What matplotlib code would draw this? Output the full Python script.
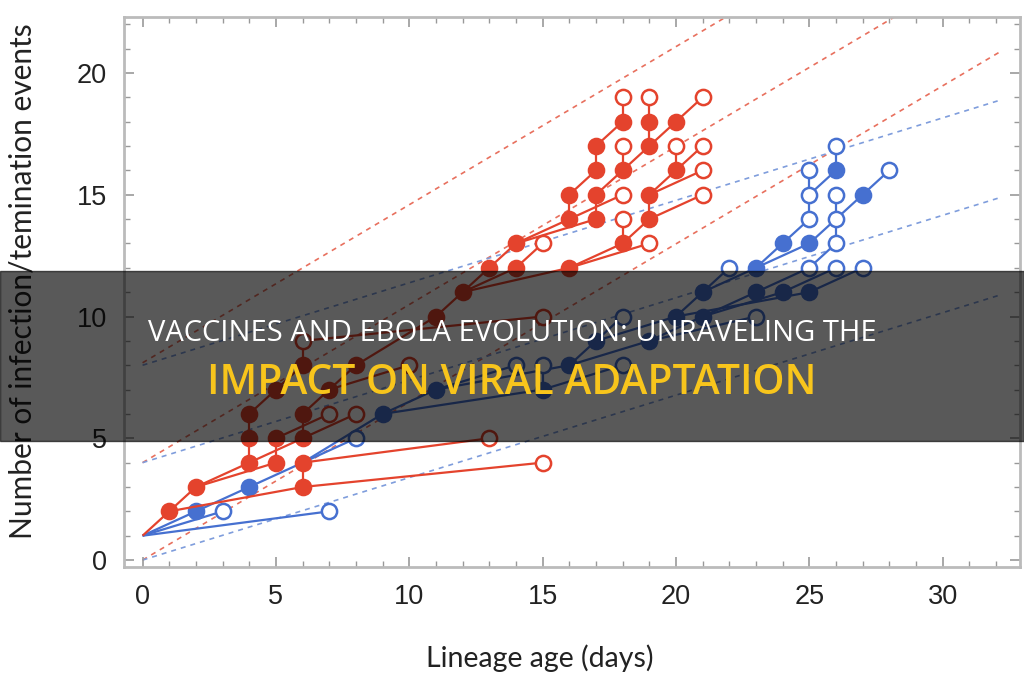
import matplotlib
matplotlib.use('Agg')
import matplotlib.pyplot as plt
from matplotlib.collections import LineCollection
from matplotlib.patches import Rectangle
from matplotlib.ticker import MultipleLocator

red = '#e4432d'
blue = '#4670d0'

# dashed guide lines, (start, end) in data units
red_guides = [((0, 8.1), (32.2, 29.0)), ((0, 4.0), (32.2, 24.9)), ((0, 0.0), (32.2, 20.9))]
blue_guides = [((0, 8.0), (32.2, 18.9)), ((0, 4.0), (32.2, 14.9)), ((0, 0.0), (32.2, 10.9))]

# red lineages
red_edges = [
    ((0, 1), (1, 2)), ((1, 2), (2, 3)), ((1, 2), (6, 3)), ((6, 3), (15, 4)), ((6, 3), (6, 4)),
    ((6, 4), (13, 5)), ((2, 3), (4, 4)), ((2, 3), (5, 4)), ((4, 4), (4, 5)), ((4, 4), (6, 5)),
    ((5, 4), (5, 5)), ((4, 5), (4, 6)), ((5, 5), (7, 6)), ((6, 5), (6, 6)), ((6, 5), (8, 6)),
    ((4, 6), (5, 7)), ((6, 6), (7, 7)), ((5, 7), (6, 8)), ((6, 8), (6, 9)), ((7, 7), (8, 8)),
    ((7, 7), (10, 8)), ((8, 8), (11, 10)), ((6, 9), (15, 10)),
    ((11, 10), (12, 11)), ((12, 11), (13, 12)), ((12, 11), (14, 12)), ((12, 11), (16, 12)),
    ((13, 12), (14, 13)), ((14, 12), (15, 13)), ((14, 13), (16, 14)), ((14, 13), (17, 14)),
    ((16, 12), (18, 13)), ((16, 12), (19, 13)),
    ((16, 14), (16, 15)), ((16, 14), (18, 15)), ((17, 14), (17, 15)),
    ((18, 13), (18, 14)), ((18, 13), (19, 14)), ((19, 14), (19, 15)), ((19, 14), (21, 15)),
    ((16, 15), (17, 16)), ((17, 15), (18, 16)), ((19, 15), (20, 16)), ((19, 15), (21, 16)),
    ((17, 16), (17, 17)), ((18, 16), (18, 17)), ((18, 16), (19, 17)), ((20, 16), (20, 17)),
    ((20, 16), (21, 17)), ((17, 17), (18, 18)), ((19, 17), (19, 18)), ((19, 17), (20, 18)),
    ((18, 18), (18, 19)), ((19, 18), (19, 19)), ((20, 18), (21, 19)),
]
red_filled = [
    (1, 2), (2, 3), (4, 4), (4, 5), (4, 6), (5, 4), (5, 5), (5, 7), (6, 3), (6, 4), (6, 5), (6, 6),
    (6, 8), (7, 7), (8, 8), (11, 10), (12, 11), (13, 12), (14, 12), (16, 12), (14, 13), (16, 14),
    (17, 14), (18, 13), (19, 14), (16, 15), (17, 15), (19, 15), (17, 16), (18, 16), (20, 16),
    (17, 17), (19, 17), (18, 18), (19, 18), (20, 18),
]
red_open = [
    (15, 4), (13, 5), (7, 6), (8, 6), (6, 9), (10, 8), (15, 10), (15, 13), (19, 13), (18, 14),
    (18, 15), (21, 15), (21, 16), (18, 17), (20, 17), (21, 17), (18, 19), (19, 19), (21, 19),
]

# blue lineages
blue_edges = [
    ((0, 1), (2, 2)), ((0, 1), (3, 2)), ((0, 1), (7, 2)), ((2, 2), (4, 3)), ((4, 3), (6, 4)),
    ((6, 4), (8, 5)), ((6, 4), (9, 6)), ((9, 6), (11, 7)), ((9, 6), (15, 7)), ((11, 7), (14, 8)),
    ((11, 7), (16, 8)), ((15, 7), (15, 8)), ((15, 7), (18, 8)), ((16, 8), (17, 9)), ((16, 8), (19, 9)),
    ((17, 9), (18, 10)), ((17, 9), (20, 10)), ((19, 9), (21, 10)), ((19, 9), (23, 10)),
    ((20, 10), (21, 11)), ((21, 10), (23, 11)), ((21, 10), (24, 11)), ((20, 10), (25, 11)),
    ((21, 11), (22, 12)), ((21, 11), (23, 12)), ((23, 11), (25, 12)), ((24, 11), (26, 12)),
    ((25, 11), (27, 12)), ((23, 12), (24, 13)), ((23, 12), (25, 13)), ((24, 13), (25, 14)),
    ((25, 14), (25, 15)), ((25, 15), (25, 16)), ((25, 15), (26, 16)), ((26, 16), (26, 17)),
    ((25, 13), (26, 14)), ((25, 12), (26, 13)), ((26, 13), (26, 14)), ((26, 14), (26, 15)),
    ((26, 14), (27, 15)), ((27, 15), (28, 16)),
]
blue_filled = [
    (2, 2), (4, 3), (9, 6), (11, 7), (15, 7), (16, 8), (17, 9), (19, 9), (20, 10), (21, 10),
    (21, 11), (23, 11), (24, 11), (25, 11), (23, 12), (24, 13), (25, 13), (26, 16), (27, 15),
]
blue_open = [
    (3, 2), (7, 2), (8, 5), (14, 8), (15, 8), (18, 8), (18, 10), (23, 10), (22, 12), (25, 12),
    (26, 12), (27, 12), (25, 14), (25, 15), (25, 16), (26, 17), (26, 13), (26, 14), (26, 15),
    (28, 16),
]

title1 = 'VACCINES AND EBOLA EVOLUTION: UNRAVELING THE'
title2 = 'IMPACT ON VIRAL ADAPTATION'

fig = plt.figure(figsize=(10.24, 6.8), dpi=100)
ax = fig.add_axes([0.121, 0.166, 0.875, 0.809])

for (x0, y0), (x1, y1) in red_guides:
    ax.plot([x0, x1], [y0, y1], ls=(0, (3, 3)), color='#e8705e', lw=1.2, zorder=1)
for (x0, y0), (x1, y1) in blue_guides:
    ax.plot([x0, x1], [y0, y1], ls=(0, (3, 3)), color='#7f9ddc', lw=1.2, zorder=1)


def draw_tree(edges, filled, opened, color, z):
    ax.add_collection(LineCollection(edges, colors=color, linewidths=1.6, zorder=z))
    ax.scatter([p[0] for p in filled], [p[1] for p in filled], s=125, c=color,
               edgecolors=color, linewidths=1.5, zorder=z + 1)
    ax.scatter([p[0] for p in opened], [p[1] for p in opened], s=120, c='white',
               edgecolors=color, linewidths=1.8, zorder=z + 1)


draw_tree(blue_edges, blue_filled, blue_open, blue, 2)
draw_tree(red_edges, red_filled, red_open, red, 4)

ax.set_xlim(-0.7, 32.9)
ax.set_ylim(-0.29, 22.3)
ax.xaxis.set_major_locator(MultipleLocator(5))
ax.xaxis.set_minor_locator(MultipleLocator(1))
ax.yaxis.set_major_locator(MultipleLocator(5))
ax.yaxis.set_minor_locator(MultipleLocator(1))
ax.tick_params(which='both', direction='in', top=True, right=True, color='#999999')
ax.tick_params(which='major', length=7, width=1.2, labelsize=19.5, labelcolor='#222222', pad=12)
ax.tick_params(which='minor', length=4, width=1)
for lab in ax.get_xticklabels() + ax.get_yticklabels():
    lab.set_family('Liberation Sans')
for sp in ax.spines.values():
    sp.set_color('#bbbbbb')
    sp.set_linewidth(2)

ax.set_xlabel('Lineage age (days)', fontsize=20.5, family='Lato', color='#222222')
ax.set_ylabel('Number of infection/temination events', fontsize=21.5, family='Lato',
              color='#222222')
ax.xaxis.set_label_coords(0.464, -0.14)
ax.yaxis.set_label_coords(-0.098, 0.52)

# dark banner with title
fig.add_artist(Rectangle((0, 0.3515), 1, 0.25, transform=fig.transFigure,
                         color='black', alpha=0.65, zorder=10))
fig.text(0.5, 0.509, title1, color='white', fontsize=21, family='Open Sans',
         ha='center', va='center', zorder=11)
fig.text(0.5, 0.437, title2, color='#f8c51c', fontsize=29.3, family='Open Sans',
         weight='semibold', ha='center', va='center', zorder=11)

plt.savefig('out.png', dpi=100)
